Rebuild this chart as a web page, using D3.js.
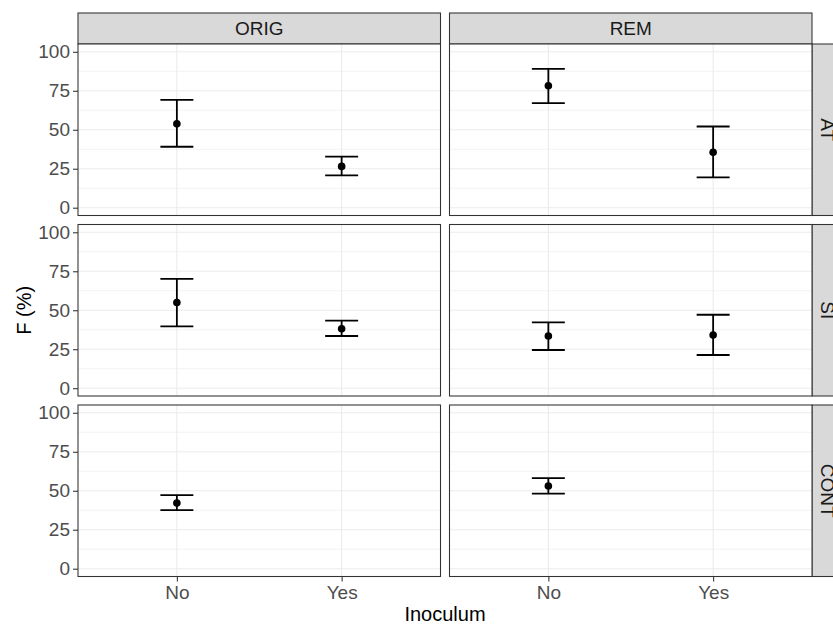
<!DOCTYPE html>
<html>
<head>
<meta charset="utf-8">
<script src="https://cdn.jsdelivr.net/npm/d3@7"></script>
<style>
  html, body { margin: 0; padding: 0; background: #fff; }
  svg { display: block; font-family: "Liberation Sans", Arial, sans-serif; }
</style>
</head>
<body>
<svg id="chart" width="833" height="628"></svg>
<script>
// ---- data ----
const colFacets = ["ORIG", "REM"];
const rowFacets = ["AT", "SI", "CONT"];
const inoculumLevels = ["No", "Yes"];
const yTicks = [0, 25, 50, 75, 100];
const yMinor = [12.5, 37.5, 62.5, 87.5];

const groupCol   = ["ORIG", "ORIG", "REM", "REM", "ORIG", "ORIG", "REM", "REM", "ORIG", "REM"];
const groupRow   = ["AT", "AT", "AT", "AT", "SI", "SI", "SI", "SI", "CONT", "CONT"];
const groupInoc  = ["No", "Yes", "No", "Yes", "No", "Yes", "No", "Yes", "No", "No"];
const meanF      = [53.8, 26.5, 78.2, 35.6, 55.0, 38.1, 33.5, 34.1, 42.1, 53.0];
const lowerF     = [39.1, 20.7, 67.1, 19.4, 39.7, 33.5, 24.5, 21.3, 37.6, 48.1];
const upperF     = [69.2, 32.7, 89.1, 52.1, 70.1, 43.3, 42.2, 47.1, 47.2, 58.1];

// ---- layout ----
const svg = d3.select("#chart");
const panelLeft = 78, panelW = 362.5, colGap = 9;
const stripTop = 13, stripH = 31;
const panelTop = stripTop + stripH, panelH = 171.5, rowGap = 9;
const rightStripW = 31;

const colX = c => panelLeft + colFacets.indexOf(c) * (panelW + colGap);
const rowY = r => panelTop + rowFacets.indexOf(r) * (panelH + rowGap);

const x = d3.scalePoint().domain(inoculumLevels).range([0, panelW]).padding(0.6);
const y = d3.scaleLinear().domain([-5, 105]).range([panelH, 0]);
const halfW = 0.1 * x.step();

const tickColor = "#333333", textColor = "#4D4D4D";

// top strips
colFacets.forEach(c => {
  const g = svg.append("g").attr("transform", `translate(${colX(c)},${stripTop})`);
  g.append("rect").attr("width", panelW).attr("height", stripH)
    .attr("fill", "#D9D9D9").attr("stroke", "#333333").attr("stroke-width", 1.07);
  g.append("text").attr("x", panelW / 2).attr("y", stripH / 2)
    .attr("text-anchor", "middle").attr("dominant-baseline", "central")
    .attr("font-size", 19).attr("fill", "#1A1A1A").text(c);
});

// right strips
rowFacets.forEach(r => {
  const sx = colX(colFacets[colFacets.length - 1]) + panelW;
  const g = svg.append("g").attr("transform", `translate(${sx},${rowY(r)})`);
  g.append("rect").attr("width", rightStripW).attr("height", panelH)
    .attr("fill", "#D9D9D9").attr("stroke", "#333333").attr("stroke-width", 1.07);
  g.append("text").attr("transform", `translate(${rightStripW / 2},${panelH / 2}) rotate(90)`)
    .attr("text-anchor", "middle").attr("dominant-baseline", "central")
    .attr("font-size", 19).attr("fill", "#1A1A1A").text(r);
});

// panels
rowFacets.forEach((r, ri) => {
  colFacets.forEach((c, ci) => {
    const g = svg.append("g").attr("transform", `translate(${colX(c)},${rowY(r)})`);
    g.append("rect").attr("width", panelW).attr("height", panelH).attr("fill", "#fff");
    // minor grid
    g.selectAll(".minor").data(yMinor).join("line")
      .attr("x1", 0).attr("x2", panelW).attr("y1", d => y(d)).attr("y2", d => y(d))
      .attr("stroke", "#EBEBEB").attr("stroke-width", 0.6);
    // major grid
    g.selectAll(".major").data(yTicks).join("line")
      .attr("x1", 0).attr("x2", panelW).attr("y1", d => y(d)).attr("y2", d => y(d))
      .attr("stroke", "#EBEBEB").attr("stroke-width", 1.1);
    g.selectAll(".vgrid").data(inoculumLevels).join("line")
      .attr("x1", d => x(d)).attr("x2", d => x(d)).attr("y1", 0).attr("y2", panelH)
      .attr("stroke", "#EBEBEB").attr("stroke-width", 1.1);

    // data in this panel
    const idx = d3.range(meanF.length).filter(i => groupCol[i] === c && groupRow[i] === r);
    idx.forEach(i => {
      const cx = x(groupInoc[i]);
      const eb = g.append("g").attr("stroke", "#000").attr("stroke-width", 1.8).attr("fill", "none");
      eb.append("line").attr("x1", cx).attr("x2", cx).attr("y1", y(lowerF[i])).attr("y2", y(upperF[i]));
      eb.append("line").attr("x1", cx - halfW).attr("x2", cx + halfW).attr("y1", y(lowerF[i])).attr("y2", y(lowerF[i]));
      eb.append("line").attr("x1", cx - halfW).attr("x2", cx + halfW).attr("y1", y(upperF[i])).attr("y2", y(upperF[i]));
      g.append("circle").attr("cx", cx).attr("cy", y(meanF[i])).attr("r", 3.8).attr("fill", "#000");
    });

    // border
    g.append("rect").attr("width", panelW).attr("height", panelH)
      .attr("fill", "none").attr("stroke", "#333333").attr("stroke-width", 1.07);

    // y axis on first column
    if (ci === 0) {
      const ax = g.append("g").call(d3.axisLeft(y).tickValues(yTicks).tickSize(5).tickPadding(3));
      ax.select(".domain").remove();
      ax.selectAll(".tick line").attr("stroke", tickColor).attr("stroke-width", 1.07);
      ax.selectAll(".tick text").attr("font-size", 19).attr("fill", textColor)
        .attr("font-family", "Liberation Sans, Arial, sans-serif");
    }
    // x axis on bottom row
    if (ri === rowFacets.length - 1) {
      const ax = g.append("g").attr("transform", `translate(0,${panelH})`)
        .call(d3.axisBottom(x).tickSize(5).tickPadding(4));
      ax.select(".domain").remove();
      ax.selectAll(".tick line").attr("stroke", tickColor).attr("stroke-width", 1.07);
      ax.selectAll(".tick text").attr("font-size", 19).attr("fill", textColor)
        .attr("font-family", "Liberation Sans, Arial, sans-serif");
    }
  });
});

// axis titles
const plotRight = colX(colFacets[colFacets.length - 1]) + panelW;
const plotBottom = rowY(rowFacets[rowFacets.length - 1]) + panelH;
svg.append("text").attr("x", (panelLeft + plotRight) / 2).attr("y", 621)
  .attr("text-anchor", "middle").attr("font-size", 20).attr("fill", "#000").text("Inoculum");
svg.append("text").attr("transform", `translate(31,${(panelTop + plotBottom) / 2}) rotate(-90)`)
  .attr("text-anchor", "middle").attr("font-size", 20).attr("fill", "#000").text("F (%)");
</script>
</body>
</html>
